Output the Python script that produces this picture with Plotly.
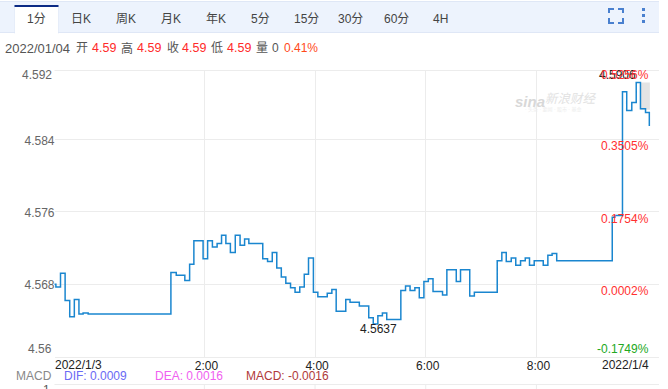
import plotly.graph_objects as go

W, H = 668, 389
PLOT_L, PLOT_R, PLOT_T, PLOT_B = 54.5, 659, 70.5, 356.5

# --- data (minutes since 2022/1/3 00:00, price) ---
minutes = [-43, -41, -36, -31, -26, -21, -16, -11.5, -6, 83.7, 89.5, 98.8, 104, 108.6, 118.6, 123.5,
           128.7, 133.8, 138.6, 143.3, 148.2, 153.5, 158.7, 163.6, 168.2, 183.3, 188.5, 193.6, 198.5,
           203.4, 208.3, 213.4, 218.3, 223.4, 228.3, 232.9, 238.2, 243, 253.2, 258.2, 262.9, 273.3,
           277.9, 288, 298.2, 303.1, 308.1, 313, 317.7, 333, 338.1, 343, 348.2, 353, 358, 362.8, 367.9,
           378.2, 382.9, 393.1, 397.7, 407.7, 412.7, 437.5, 442.5, 447.3, 452.7, 457.6, 462.8, 467.9,
           472.5, 477.6, 487.4, 492.4, 497, 502, 562.2, 565.2, 573.3, 577.9, 583.4, 588.2, 592.8, 598.3,
           602.4]
prices = [4.5680, 4.5677, 4.5692, 4.5662, 4.5644, 4.5663, 4.5647, 4.5648, 4.5647, 4.5693, 4.5690, 4.5684,
          4.5702, 4.5728, 4.5708, 4.5728, 4.5721, 4.5725, 4.5734, 4.5725, 4.5715, 4.5734, 4.5723, 4.5730,
          4.5725, 4.5708, 4.5705, 4.5715, 4.5698, 4.5688, 4.5681, 4.5676, 4.5671, 4.5677, 4.5691, 4.5709,
          4.5671, 4.5666, 4.5670, 4.5674, 4.5650, 4.5663, 4.5660, 4.5656, 4.5643, 4.5636, 4.5645, 4.5648,
          4.5641, 4.5673, 4.5678, 4.5673, 4.5676, 4.5665, 4.5683, 4.5686, 4.5672, 4.5668, 4.5696, 4.5683,
          4.5696, 4.5667, 4.5671, 4.5706, 4.5715, 4.5705, 4.5709, 4.5701, 4.5706, 4.5709, 4.5701, 4.5706,
          4.5701, 4.5712, 4.5714, 4.5706, 4.5754, 4.5756, 4.5893, 4.5872, 4.5881, 4.5903, 4.5874, 4.5870,
          4.5855]
band_x = [592.8, 603, 603, 592.8, 592.8]
band_y = [4.5903, 4.5903, 4.5873, 4.5873, 4.5903]

x_ticks = [120, 240, 360, 480]
x_labels = ["2:00", "4:00", "6:00", "8:00"]
y_ticks = [4.56, 4.568, 4.576, 4.584]
y_labels = ["", "4.568", "4.576", "4.584"]
pct_labels = [("-0.1749%", 349, "#22a822"), ("0.0002%", 291, "#ff3030"),
              ("0.1754%", 219, "#ff3030"), ("0.3505%", 146, "#ff3030"), ("0.5256%", 75, "#ff3030")]
tabs = ["1分", "日K", "周K", "月K", "年K", "5分", "15分", "30分", "60分", "4H"]
tab_centres = [36, 81, 126, 171, 216, 260, 306, 351, 396, 440]
header_parts = ["2022/01/04", "开", "4.59", "高", "4.59", "收", "4.59", "低", "4.59", "量", "0", "0.41%"]
header_x = [4, 75, 91, 120, 136, 166, 181, 210, 226, 255, 271, 283]
header_sizes = [13, 12, 12.5, 12, 12.5, 12, 12.5, 12, 12.5, 12, 12, 12]
header_colors = ["#555", "#555", "#ff2a2a", "#555", "#ff2a2a", "#555", "#ff2a2a", "#555", "#ff2a2a", "#555",
                 "#555", "#ff4a1a"]

FONT = "Liberation Sans, Arial, Noto Sans CJK SC, sans-serif"
GRID = "#ececec"


def px(x):
    return x / W


def py(y):
    return 1 - y / H


def text(s, x, y, color="#333", size=12, anchor="left", family=FONT, **kw):
    return dict(text=s, x=px(x), y=py(y), xref="paper", yref="paper", showarrow=False, xanchor=anchor,
                yanchor="middle", font=dict(family=family, size=size, color=color), borderpad=0, **kw)


def rect(x0, y0, x1, y1, color):
    return dict(type="rect", xref="paper", yref="paper", x0=px(x0), x1=px(x1), y0=py(y0), y1=py(y1),
                fillcolor=color, line=dict(width=0), layer="below")


fig = go.Figure()
fig.add_trace(go.Scatter(x=band_x, y=band_y, mode="lines", fill="toself", fillcolor="#e4e4e4",
                         line=dict(width=0), hoverinfo="skip", showlegend=False))
fig.add_trace(go.Scatter(x=minutes, y=prices, mode="lines", line=dict(color="#1a86cf", width=1.5, shape="hv"),
                         showlegend=False))

shapes = [
    rect(0, 1, 659, 2, "#dfe7f6"),
    rect(0, 2, 659, 32, "#edf3fd"),
    rect(0, 32, 659, 33, "#dfe7f6"),
    rect(14.5, 5, 58.5, 33.5, "#dfe7f6"),
    rect(15, 7, 58, 34, "#ffffff"),
    rect(14.5, 5, 58.5, 7, "#0b2a85"),
    rect(PLOT_L, 70, PLOT_R, 71, GRID),
    rect(PLOT_L, 384, PLOT_R, 385, GRID),
]
for tick in x_ticks:
    shapes.append(dict(type="line", xref="x", yref="paper", x0=tick, x1=tick, y0=0, y1=py(384),
                       line=dict(color=GRID, width=1), layer="below"))
# fullscreen and menu icons
ICON = "#4a80cf"
for (a, b, c, d) in [(608, 8, 614, 10), (608, 8, 610, 13), (618, 8, 624, 10), (622, 8, 624, 13),
                     (608, 22, 614, 24), (608, 18, 610, 24), (618, 22, 624, 24), (622, 18, 624, 24),
                     (642, 8, 645, 11), (642, 14, 645, 17), (642, 20, 645, 23)]:
    shapes.append(rect(a, b, c, d, ICON))

ann = [text(t, x, 19, color="#444", anchor="center") for t, x in zip(tabs, tab_centres)]
ann += [text(t, x, 48, color=col, size=s) for t, x, col, s in zip(header_parts, header_x, header_colors, header_sizes)]
ann += [
    text("4.592", 53, 75, color="#666", anchor="right"),
    text("4.56", 53, 349, color="#666", anchor="right"),
    text("2022/1/3", 54, 364.5, color="#222"),
    text("2022/1/4", 650, 364.5, color="#222", anchor="right"),
    text("4.5906", 637, 75, color="#222", anchor="right"),
    text("4.5637", 378, 329, color="#222", anchor="center"),
    text("MACD", 53, 375.5, color="#888", anchor="right"),
    text("DIF: 0.0009", 63, 375.5, color="#6a6af5"),
    text("DEA: 0.0016", 154, 375.5, color="#f060f0"),
    text("MACD: -0.0016", 245, 375.5, color="#b03a3a"),
    text("1", 51, 390, color="#555", anchor="right"),
    text("<b><i>sina</i></b>", 514, 101, color="#d8d8d8", size=15),
    text("<i>新浪财经</i>", 544, 99, color="#e2e2e2", size=12.5),
    text("· 头条 · 要闻 · 股市 · 基金", 524, 109, color="#ececec", size=5),
]
ann += [text(s, 649.5, y, color=col, anchor="right") for s, y, col in pct_labels]

fig.update_layout(
    width=W, height=H, autosize=False, margin=dict(l=0, r=0, t=0, b=0),
    paper_bgcolor="white", plot_bgcolor="white", showlegend=False,
    shapes=shapes, annotations=ann, font=dict(family=FONT, size=12),
    xaxis=dict(domain=[px(PLOT_L), px(PLOT_R)], range=[-42.5, 612.9], tickvals=x_ticks, ticktext=x_labels,
               showgrid=True, gridcolor=GRID, zeroline=False, ticks="", showline=True, linecolor=GRID,
               ticklabelshift=2, ticklabelstandoff=-2, tickfont=dict(color="#222", size=12)),
    yaxis=dict(domain=[py(PLOT_B), py(PLOT_T)], range=[4.56, 4.56 + 286 / 9040], tickvals=y_ticks, ticktext=y_labels,
               showgrid=True, gridcolor=GRID, zeroline=False, ticks="", showline=False,
               ticklabelshift=1, ticklabelstandoff=-1, tickfont=dict(color="#666", size=12)),
)
fig.write_html("out.html", config={"displayModeBar": False},
               post_script="document.body.style.margin='0';document.body.style.overflow='hidden';")
